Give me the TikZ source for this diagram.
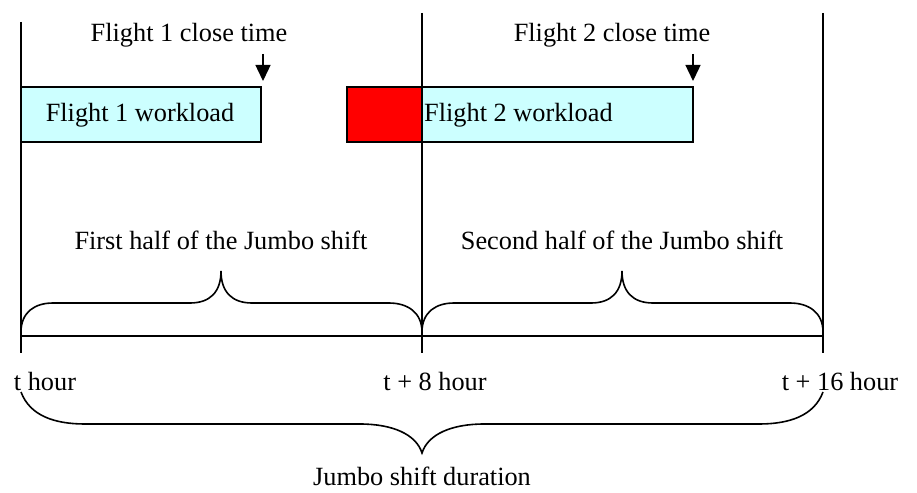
\documentclass[tikz,border=0pt]{standalone}
\usepackage{fontspec}
\setmainfont{Liberation Serif}
\usetikzlibrary{arrows.meta}
\definecolor{workfill}{RGB}{204,255,255}
\definecolor{latefill}{RGB}{255,0,0}
\begin{document}
\begin{tikzpicture}[x=1pt,y=-1pt,
  every node/.style={font=\fontsize{26.3}{30}\selectfont, inner sep=0pt},
  rule/.style={line width=1.6pt},
  workbox/.style={draw, line width=1.4pt, fill=workfill},
  latebox/.style={draw, line width=1.4pt, fill=latefill},
  bracepath/.style={line width=1.6pt},
  closearrow/.style={line width=1.4pt, -{Triangle[width=15pt,length=16pt]}}]
\useasboundingbox (0,0) rectangle (917,492);

% time marks
\coordinate (t0top) at (21,22);
\coordinate (t0bot) at (21,353);
\coordinate (t8top) at (422,13);
\coordinate (t8bot) at (422,353);
\coordinate (t16top) at (823,13);
\coordinate (t16bot) at (823,353);
\coordinate (axL) at (21,336);
\coordinate (axR) at (823,336);

% workload boxes
\filldraw[workbox] (21,87) rectangle (261,142);
\node (w1) at (140,115) {Flight 1 workload};
\filldraw[latebox] (347,87) rectangle (422,142);
\filldraw[workbox] (422,87) rectangle (693,142);
\node[anchor=west] (w2) at (424,115) {Flight 2 workload};

\draw[rule] (t0top) -- (t0bot);
\draw[rule] (t8top) -- (t8bot);
\draw[rule] (t16top) -- (t16bot);
\draw[rule] (axL) -- (axR);

% close times
\node (c1) at (189,35) {Flight 1 close time};
\node (c2) at (612,35) {Flight 2 close time};
\coordinate (a1s) at (263,54);
\coordinate (a1e) at (263,81);
\coordinate (a2s) at (693,54);
\coordinate (a2e) at (693,81);
\draw[closearrow] (a1s) -- (a1e);
\draw[closearrow] (a2s) -- (a2e);

% half-shift braces
\draw[bracepath] (21,332) .. controls (21,312) and (35,303) .. (53,303) -- (190,303)
  .. controls (210,303) and (221,292) .. (221,271)
  .. controls (221,292) and (232,303) .. (252,303) -- (389,303)
  .. controls (407,303) and (422,312) .. (422,332);
\draw[bracepath] (422,332) .. controls (422,312) and (436,303) .. (454,303) -- (591,303)
  .. controls (611,303) and (622,292) .. (622,271)
  .. controls (622,292) and (633,303) .. (653,303) -- (790,303)
  .. controls (808,303) and (823,312) .. (823,332);
\node (h1) at (221,240) {First half of the Jumbo shift};
\node (h2) at (622,240) {Second half of the Jumbo shift};

% time labels
\node (l0) at (45,381) {t hour};
\node (l8) at (435,381) {t + 8 hour};
\node (l16) at (840,381) {t + 16 hour};

% whole-shift brace
\draw[bracepath] (21,392) .. controls (30,416) and (55,424) .. (85,424) -- (360,424)
  .. controls (392,424) and (416,434) .. (422,453)
  .. controls (428,434) and (452,424) .. (484,424) -- (759,424)
  .. controls (789,424) and (814,416) .. (823,392);
\node (dur) at (422,476) {Jumbo shift duration};
\end{tikzpicture}
\end{document}
